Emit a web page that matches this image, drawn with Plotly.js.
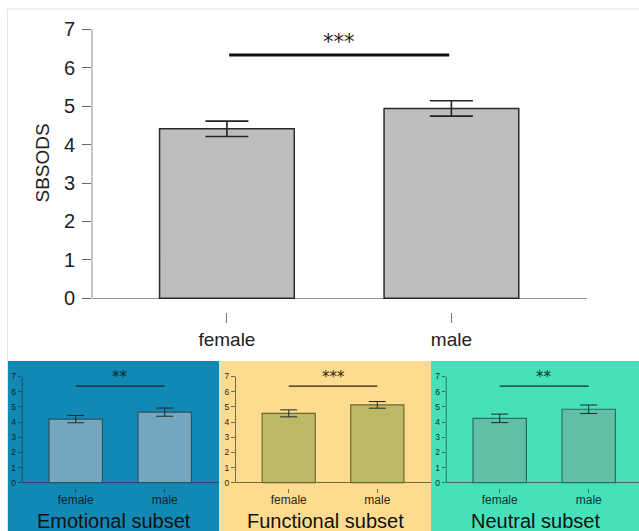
<!DOCTYPE html>
<html>
<head>
<meta charset="utf-8">
<script src="https://cdn.plot.ly/plotly-3.0.1.min.js"></script>
<style>
  html, body { margin: 0; padding: 0; background: #ffffff; }
  #chart { width: 639px; height: 531px; }
</style>
</head>
<body>
<div id="chart"></div>
<script>
// Sex differences in SBSODS score: whole scale and three item subsets
const categories = ['female', 'male'];
const yTicks = [0, 1, 2, 3, 4, 5, 6, 7];

const overallMean = [4.41, 4.94];
const overallErr = [0.20, 0.20];
const overallSig = 6.33;
const overallStars = '***';

const emotionalMean = [4.19, 4.65];
const emotionalErr = [0.24, 0.27];
const emotionalSig = 6.37;
const emotionalStars = '**';

const functionalMean = [4.57, 5.13];
const functionalErr = [0.23, 0.22];
const functionalSig = 6.37;
const functionalStars = '***';

const neutralMean = [4.24, 4.84];
const neutralErr = [0.28, 0.28];
const neutralSig = 6.37;
const neutralStars = '**';

const subsetTitles = ['Emotional subset', 'Functional subset', 'Neutral subset'];

// page geometry helpers (figure is 639 x 531 with zero margins)
const W = 639, H = 531;
const px = v => v / W;
const py = v => 1 - v / H;

const FONT = '"Liberation Sans", Arial, sans-serif';
const STAR_FONT = '"DejaVu Sans", sans-serif';

const panels = [
  { mean: emotionalMean, err: emotionalErr, sig: emotionalSig, stars: emotionalStars,
    bg: '#1289B4', bar: '#74A7BF', edge: '#2C5264', axis: '#24485a', text: '#14232b',
    x0: 8, x1: 219, dom: [22.2, 218.5], range: [-0.601, 1.604] },
  { mean: functionalMean, err: functionalErr, sig: functionalSig, stars: functionalStars,
    bg: '#FEDB8F', bar: '#BDBA66', edge: '#6B6830', axis: '#6e6a48', text: '#2a2616',
    x0: 219, x1: 431, dom: [235.5, 430.8], range: [-0.601, 1.604] },
  { mean: neutralMean, err: neutralErr, sig: neutralSig, stars: neutralStars,
    bg: '#46E0BB', bar: '#61BFA6', edge: '#2C6E5E', axis: '#2f6e5f', text: '#12302a',
    x0: 431, x1: 639, dom: [446.2, 639], range: [-0.601, 1.565] }
];

const traces = [];
const shapes = [];
const annotations = [];

// outer light frame around the whole figure
shapes.push({ type: 'rect', xref: 'paper', yref: 'paper', layer: 'below',
  x0: px(7.5), x1: px(700), y0: py(700), y1: py(9),
  line: { color: '#e4e4e4', width: 1 }, fillcolor: 'rgba(0,0,0,0)' });

// ---- main chart ----
traces.push({
  type: 'bar', x: categories, y: overallMean, width: 0.6,
  marker: { color: '#BEBEBE', line: { color: '#2a2a2a', width: 1.5 } },
  error_y: { type: 'data', array: overallErr, visible: true, color: '#222', thickness: 1.6, width: 21.5 },
  xaxis: 'x', yaxis: 'y', hoverinfo: 'skip'
});
shapes.push({ type: 'line', xref: 'x domain', yref: 'y', x0: 0, x1: 0, y0: 0, y1: 7,
  line: { color: '#8a8a8a', width: 1 } });
shapes.push({ type: 'line', xref: 'x', yref: 'y', x0: 0.01, x1: 0.99, y0: overallSig, y1: overallSig,
  line: { color: '#111', width: 3 } });
annotations.push({ xref: 'x', yref: 'y', x: 0.5, y: overallSig, yanchor: 'bottom', yshift: -1,
  text: overallStars, showarrow: false, font: { family: STAR_FONT, size: 21, color: '#222' } });
annotations.push({ xref: 'paper', yref: 'paper', x: px(42), y: py(163.5), xanchor: 'center', yanchor: 'middle',
  text: 'SBSODS', textangle: -90, showarrow: false, font: { family: FONT, size: 19, color: '#222' } });

const layout = {
  width: W, height: H,
  margin: { l: 0, r: 0, t: 0, b: 0 },
  paper_bgcolor: '#ffffff', plot_bgcolor: 'rgba(0,0,0,0)',
  showlegend: false, bargap: 0,
  xaxis: {
    domain: [px(92), px(587)], range: [-0.601, 1.604], type: 'category',
    showline: false, showgrid: false, zeroline: false,
    ticks: 'outside', ticklen: 10, tickwidth: 1, tickcolor: '#777',
    tickfont: { family: FONT, size: 19, color: '#222' }, fixedrange: true
  },
  yaxis: {
    domain: [py(312), py(29.3)], range: [-0.357, 7],
    tickvals: yTicks, showline: false, showgrid: false,
    zeroline: true, zerolinecolor: '#9a9a9a', zerolinewidth: 1,
    ticks: 'outside', ticklen: 9, tickwidth: 1, tickcolor: '#666',
    ticklabelstandoff: 3,
    tickfont: { family: FONT, size: 20, color: '#222' }, fixedrange: true
  }
};

// ---- three subset panels ----
panels.forEach((p, i) => {
  const n = i + 2;
  const xa = 'x' + n, ya = 'y' + n;
  shapes.push({ type: 'rect', xref: 'paper', yref: 'paper', layer: 'below',
    x0: px(p.x0), x1: px(p.x1), y0: 0, y1: py(361),
    line: { width: 0 }, fillcolor: p.bg });
  traces.push({
    type: 'bar', x: categories, y: p.mean, width: 0.6,
    marker: { color: p.bar, line: { color: p.edge, width: 1.2 } },
    error_y: { type: 'data', array: p.err, visible: true, color: '#1d2a2a', thickness: 1, width: 8.5 },
    xaxis: xa, yaxis: ya, hoverinfo: 'skip'
  });
  shapes.push({ type: 'line', xref: xa + ' domain', yref: ya, x0: 0, x1: 0, y0: 0, y1: 7,
    line: { color: p.axis, width: 1 } });
  shapes.push({ type: 'line', xref: xa, yref: ya, x0: 0, x1: 1, y0: p.sig, y1: p.sig,
    line: { color: p.text, width: 1.2 } });
  annotations.push({ xref: xa, yref: ya, x: 0.5, y: p.sig, yanchor: 'bottom', yshift: -2,
    text: p.stars, showarrow: false, font: { family: STAR_FONT, size: 15, color: p.text } });
  annotations.push({ xref: 'paper', yref: 'paper', x: px((p.x0 + p.x1) / 2), y: 0,
    xanchor: 'center', yanchor: 'bottom', yshift: -3, text: subsetTitles[i], showarrow: false,
    font: { family: FONT, size: 20, color: '#111' } });

  layout['xaxis' + n] = {
    domain: [px(p.dom[0]), px(p.dom[1])], range: p.range, type: 'category', anchor: ya,
    showline: false, showgrid: false, zeroline: false,
    ticks: 'outside', ticklen: 4, tickwidth: 1, tickcolor: p.axis,
    ticklabelstandoff: -4,
    tickfont: { family: FONT, size: 12, color: p.text }, fixedrange: true
  };
  layout['yaxis' + n] = {
    domain: [py(488.1), py(376.5)], range: [-0.357, 7], anchor: xa,
    tickvals: yTicks, showline: false, showgrid: false,
    zeroline: true, zerolinecolor: p.axis, zerolinewidth: 1,
    ticks: 'outside', ticklen: 3.5, tickwidth: 1, tickcolor: p.axis,
    tickfont: { family: FONT, size: 8.5, color: p.text }, fixedrange: true
  };
});

layout.shapes = shapes;
layout.annotations = annotations;

Plotly.newPlot('chart', traces, layout, { staticPlot: true, displayModeBar: false });
</script>
</body>
</html>
